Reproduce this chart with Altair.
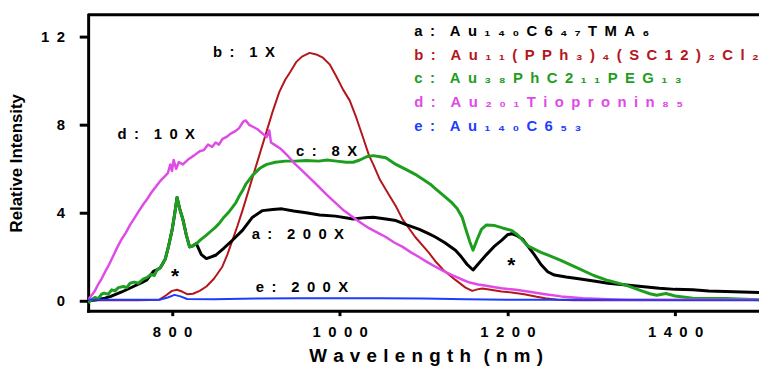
import altair as alt
import pandas as pd

FONT = "Liberation Sans, Arial, Helvetica, sans-serif"
GAP = "\u2002"


def spaced(s, gap=GAP):
    return gap.join("" if c == " " else c for c in s)


# ---------------- data ----------------
wl_a = [700, 710, 720, 727, 740, 754, 765, 770, 778, 782, 786, 789, 792, 796, 800, 803, 806, 809, 813,
        817, 821, 825, 829, 835, 841,
        852, 862, 872, 884, 896, 908, 920, 931, 945, 960, 976, 995, 1016, 1030, 1040, 1055, 1067,
        1080, 1095, 1106, 1114, 1125, 1138, 1145, 1152, 1159, 1168, 1175, 1185, 1193, 1200, 1205,
        1212, 1218, 1225, 1232, 1240, 1248, 1256, 1270, 1285, 1303, 1320, 1342, 1360, 1381, 1400,
        1421, 1440, 1460, 1480, 1500]
int_a = [0.0, 0.05, 0.12, 0.2, 0.4, 0.65, 0.85, 0.95, 1.35, 1.4, 1.5, 1.7, 1.9, 2.5, 3.2, 3.9, 4.7, 4.2,
         3.7, 3.0, 2.45, 2.5, 2.6, 2.1, 1.92,
         2.07, 2.4, 2.75, 3.2, 3.8, 4.1, 4.15, 4.18, 4.08, 4.0, 3.9, 3.85, 3.72, 3.78, 3.8, 3.72, 3.65,
         3.45, 3.25, 3.05, 2.9, 2.65, 2.3, 2.0, 1.65, 1.4, 1.8, 2.1, 2.5, 2.75, 3.0, 3.05,
         2.95, 2.8, 2.45, 2.1, 1.65, 1.32, 1.17, 1.08, 1.0, 0.9, 0.8, 0.72, 0.65, 0.57, 0.52,
         0.5, 0.45, 0.42, 0.4, 0.38]

wl_b = [700, 720, 760, 785, 793, 800, 806, 812, 818, 825, 833, 841, 850, 860, 866, 872, 878, 884, 890,
        896, 902, 908, 914, 920, 928, 935, 941, 948, 955, 964, 972, 980, 988, 996, 1004, 1012, 1020,
        1028, 1035, 1040, 1048, 1059, 1067, 1075, 1090, 1106, 1114, 1125, 1138, 1150, 1158, 1164,
        1170, 1180, 1193, 1205, 1220, 1235, 1245, 1260, 1280, 1500]
int_b = [0.02, 0.02, 0.02, 0.05, 0.25, 0.45, 0.5, 0.42, 0.3, 0.32, 0.45, 0.65, 1.0, 1.55, 2.1, 2.75, 3.4,
         4.1, 4.85, 5.6, 6.35, 7.1, 7.85, 8.6, 9.5, 10.05, 10.4, 10.85, 11.1, 11.27, 11.2, 11.05, 10.75,
         10.2, 9.6, 9.1, 8.3, 7.4, 6.6, 6.2, 5.5, 4.8, 4.3, 3.7, 2.9, 2.2, 1.8, 1.35, 0.95, 0.6, 0.45,
         0.52, 0.56, 0.5, 0.42, 0.38, 0.3, 0.18, 0.12, 0.05, 0.02, 0.02]

wl_c = [700, 704, 708, 712, 716, 719, 724, 728, 732, 736, 742, 746, 750, 755, 760, 766, 770, 775, 779,
        782, 786, 789, 792, 796, 800, 803, 806, 809, 813, 817, 821, 825, 829, 835, 840, 846, 852, 857,
        862, 867, 872, 876, 880, 884, 888, 892, 896, 900, 904, 908, 913, 918, 923, 935, 947, 960, 975,
        985, 996, 1008, 1016, 1024, 1032, 1040, 1048, 1055, 1067, 1080, 1090, 1100, 1108, 1114, 1125,
        1134, 1140, 1146, 1150, 1155, 1159, 1164, 1169, 1175, 1185, 1195, 1205, 1212, 1218, 1224, 1232,
        1240, 1250, 1263, 1280, 1303, 1320, 1342, 1360, 1370, 1378, 1389, 1400, 1421, 1460, 1500]
int_c = [-0.1, 0.05, 0.15, 0.1, 0.3, 0.35, 0.3, 0.5, 0.45, 0.6, 0.65, 0.6, 0.8, 0.85, 0.8, 1.0, 1.05,
         1.2, 1.15, 1.4, 1.5, 1.7, 1.9, 2.5, 3.2, 3.9, 4.7, 4.2, 3.7, 3.0, 2.45, 2.5, 2.6, 2.8, 2.95,
         3.15, 3.35, 3.55, 3.8, 4.0, 4.25, 4.45, 4.75, 5.0, 5.3, 5.5, 5.7, 5.85, 6.0, 6.1, 6.2, 6.25,
         6.3, 6.35, 6.35, 6.38, 6.35, 6.4, 6.35, 6.3, 6.3, 6.4, 6.55, 6.6, 6.55, 6.5, 6.2, 5.95, 5.75,
         5.5, 5.3, 5.1, 4.75, 4.45, 4.2, 3.8, 3.3, 2.7, 2.3, 2.8, 3.25, 3.45, 3.42, 3.3, 3.2, 3.0, 2.75,
         2.5, 2.35, 2.2, 2.05, 1.85, 1.55, 1.15, 0.92, 0.7, 0.45, 0.32, 0.25, 0.33, 0.22, 0.12, 0.1, 0.05]

wl_d = [700, 703, 708, 712, 716, 720, 725, 730, 735, 740, 745, 750, 755, 760, 766, 770, 775, 780, 786,
        790, 795, 798, 800, 802, 805, 808, 813, 820, 826, 833, 838, 843, 848, 852, 856, 860, 865, 870,
        875, 880, 885, 888, 892, 897, 902, 908, 913, 916, 918, 922, 930, 939, 946, 953, 965, 976, 985,
        995, 1005, 1016, 1025, 1035, 1045, 1055, 1065, 1075, 1085, 1094, 1104, 1114, 1124, 1134, 1145,
        1155, 1165, 1175, 1185, 1193, 1210, 1224, 1245, 1264, 1290, 1320, 1342, 1400, 1450, 1500]
int_d = [0.05, 0.2, 0.45, 0.75, 1.0, 1.3, 1.65, 2.05, 2.45, 2.8, 3.1, 3.45, 3.75, 4.05, 4.4, 4.6, 4.9,
         5.15, 5.45, 5.6, 5.8, 6.2, 5.9, 6.4, 6.0, 6.3, 6.2, 6.45, 6.6, 6.8, 6.85, 7.1, 7.0, 7.2, 7.1,
         7.35, 7.45, 7.6, 7.7, 7.85, 8.15, 8.2, 8.0, 7.9, 7.8, 7.6, 7.45, 7.75, 7.2, 7.1, 6.9, 6.55,
         6.25, 6.0, 5.55, 5.15, 4.8, 4.45, 4.1, 3.8, 3.55, 3.3, 3.1, 2.9, 2.65, 2.45, 2.2, 2.0, 1.77,
         1.55, 1.35, 1.17, 0.98, 0.83, 0.74, 0.68, 0.62, 0.57, 0.5, 0.42, 0.3, 0.2, 0.12, 0.07, 0.05,
         0.05, 0.05, 0.05]

wl_e = [700, 750, 785, 795, 803, 810, 818, 850, 900, 950, 1000, 1050, 1100, 1150, 1200, 1300, 1400, 1500]
int_e = [0.05, 0.05, 0.05, 0.15, 0.27, 0.2, 0.08, 0.07, 0.1, 0.12, 0.12, 0.12, 0.1, 0.07, 0.05, 0.05,
         0.03, 0.03]

series_colors = ["#b3161b", "#000000", "#1e9e1e", "#e04ae6", "#1e3cff"]
series_widths = [2, 3, 3, 2.5, 2]
series_data = [(wl_b, int_b), (wl_a, int_a), (wl_c, int_c), (wl_d, int_d), (wl_e, int_e)]

legend_texts = ["a: Au₁₄₀C6₄₇TMA₆", "b: Au₁₁(PPh₃)₄(SC12)₂Cl₂", "c: Au₃₈PhC2₁₁PEG₁₃",
                "d: Au₂₀₁Tiopronin₈₅", "e: Au₁₄₀C6₅₃"]
legend_colors = ["#000000", "#b3161b", "#1e9e1e", "#e04ae6", "#1e3cff"]
legend_wl = [1089, 1089, 1089, 1089, 1089]
legend_int = [12.25, 11.18, 10.11, 9.02, 7.93]

ann_texts = ["b: 1X", "d: 10X", "c: 8X", "a: 200X", "e: 200X"]
ann_wl = [849, 735, 948, 895, 900]
ann_int = [11.3, 7.6, 6.8, 3.05, 0.63]

star_wl = [803.5, 1204.7]
star_int = [1.08, 1.59]

x_ticks = [800, 1000, 1200, 1400]
y_ticks = [0, 4, 8, 12]


def label_expr(values):
    parts = [f"datum.value == {v} ? '{spaced(str(v))}'" for v in values]
    return " : ".join(parts) + " : ''"


xscale = alt.Scale(domain=[700, 1500], nice=False, zero=False)
yscale = alt.Scale(domain=[-0.45, 13], nice=False, zero=False)

xaxis = alt.Axis(values=x_ticks, labelExpr=label_expr(x_ticks), labelFont=FONT, labelFontSize=15,
                 labelFontWeight="bold", labelColor="black", labelPadding=9, labelOverlap=False,
                 tickSize=5, tickWidth=3, tickColor="black", domainColor="black", domainWidth=3,
                 domainCap="square", grid=False,
                 title=spaced("Wavelength (nm)", "\u2004"), titleFont=FONT, titleFontSize=19,
                 titleFontWeight="bold", titleColor="black", titleX=341, titleY=45,
                 titleAlign="center", titleBaseline="middle")
yaxis = alt.Axis(values=y_ticks, labelExpr=label_expr(y_ticks), labelFont=FONT, labelFontSize=15,
                 labelFontWeight="bold", labelColor="black", labelPadding=15, labelOverlap=False,
                 tickSize=9, tickWidth=3, tickColor="black", domainColor="black", domainWidth=3,
                 domainCap="square", grid=False,
                 title="Relative Intensity", titleFont=FONT, titleFontSize=17, titleFontWeight="bold",
                 titleColor="black", titleX=-72, titleY=149.5, titleAngle=270, titleAlign="center",
                 titleBaseline="middle")

layers = []
for (wl, iv), col, w in zip(series_data, series_colors, series_widths):
    df = pd.DataFrame({"wl": wl, "I": iv})
    layers.append(
        alt.Chart(df).mark_line(color=col, strokeWidth=w, clip=True, strokeJoin="round").encode(
            x=alt.X("wl:Q", scale=xscale, axis=xaxis),
            y=alt.Y("I:Q", scale=yscale, axis=yaxis),
        )
    )

top_rule = alt.Chart(pd.DataFrame({"v": [0]})).mark_rule(color="black", strokeWidth=3).encode(
    y=alt.datum(13)
)

leg_df = pd.DataFrame({"wl": legend_wl, "I": legend_int,
                       "t": [spaced(t) for t in legend_texts], "c": legend_colors})
legend = alt.Chart(leg_df).mark_text(align="left", baseline="middle", font=FONT, fontSize=15,
                                     fontWeight="bold").encode(
    x=alt.X("wl:Q", scale=xscale, axis=xaxis),
    y=alt.Y("I:Q", scale=yscale, axis=yaxis),
    text="t:N",
    color=alt.Color("c:N", scale=None),
)

ann_df = pd.DataFrame({"wl": ann_wl, "I": ann_int, "t": [spaced(t) for t in ann_texts]})
ann = alt.Chart(ann_df).mark_text(align="left", baseline="middle", font=FONT, fontSize=15,
                                  fontWeight="bold", color="black").encode(
    x=alt.X("wl:Q", scale=xscale, axis=xaxis),
    y=alt.Y("I:Q", scale=yscale, axis=yaxis),
    text="t:N",
)

star_df = pd.DataFrame({"wl": star_wl, "I": star_int, "t": ["*", "*"]})
stars = alt.Chart(star_df).mark_text(align="center", baseline="middle", font=FONT, fontSize=21,
                                     fontWeight="bold", color="black").encode(
    x=alt.X("wl:Q", scale=xscale, axis=xaxis),
    y=alt.Y("I:Q", scale=yscale, axis=yaxis),
    text="t:N",
)

chart = alt.layer(*layers, top_rule, legend, ann, stars).properties(
    width=678,
    height=299,
    autosize=alt.AutoSizeParams(type="none"),
    padding={"left": 81, "top": 5, "right": 0, "bottom": 56},
    background="white",
).configure_view(stroke=None)

chart.save("out.html", embed_options={"renderer": "svg", "actions": False})
